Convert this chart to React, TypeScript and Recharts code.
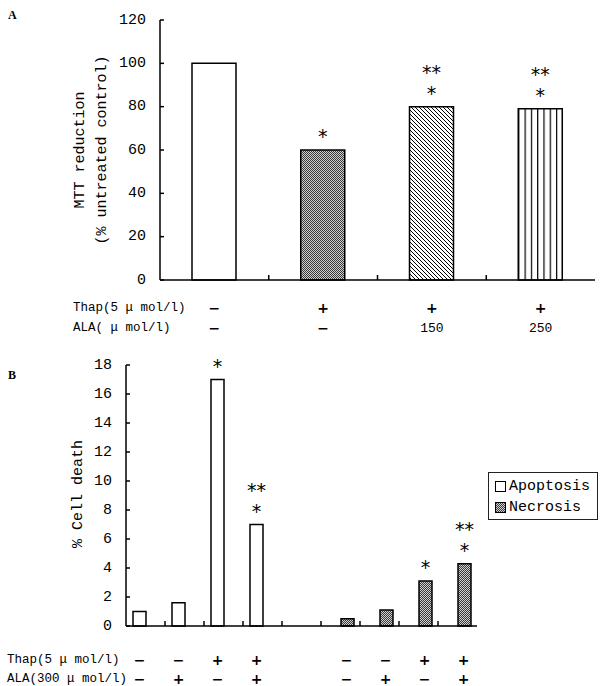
import React from 'react'
import { BarChart, Bar, XAxis, YAxis, Cell, LabelList, Legend } from 'recharts'

const MONO = '"Liberation Mono", monospace'
const SANS = '"DejaVu Sans", sans-serif'

// panel A: MTT reduction
const groupsA = ['control', 'thap', 'thap+ala150', 'thap+ala250']
const mttReduction = [100, 60, 80, 79]
const thapRowA = ['−', '+', '+', '+']
const alaRowA = ['−', '−', '150', '250']
const starsA = ['', '*', '**|*', '**|*']
const ticksA = [0, 20, 40, 60, 80, 100, 120]

// panel B: cell death
const groupsB = ['a1', 'a2', 'a3', 'a4', 'gap', 'n1', 'n2', 'n3', 'n4']
const apoptosis = [1.0, 1.6, 17, 7.0, null, null, null, null, null]
const necrosis = [null, null, null, null, null, 0.5, 1.1, 3.1, 4.3]
const thapRowB = ['−', '−', '+', '+', '', '−', '−', '+', '+']
const alaRowB = ['−', '+', '−', '+', '', '−', '+', '−', '+']
const starsApo = ['', '', '*', '**|*', '', '', '', '', '']
const starsNec = ['', '', '', '', '', '', '', '*', '**|*']
const ticksB = [0, 2, 4, 6, 8, 10, 12, 14, 16, 18]
const seriesB = ['Apoptosis', 'Necrosis']

const dataA = groupsA.map((g, i) => ({ name: g, value: mttReduction[i], stars: starsA[i] }))
const dataB = groupsB.map((g, i) => ({
  name: g, apoptosis: apoptosis[i], necrosis: necrosis[i], apoStars: starsApo[i], necStars: starsNec[i],
}))

const YTICK_GAP = 14

function InTickY(props: any) {
  const { x, y, payload } = props
  return (
    <g>
      <line x1={x + YTICK_GAP} x2={x + YTICK_GAP + 4} y1={y} y2={y} stroke="#000" strokeWidth={1.5} />
      <text x={x} y={y} textAnchor="end" dominantBaseline="central" fontSize={15} fontFamily={MONO} fill="#000">
        {payload.value}
      </text>
    </g>
  )
}

function makeGroupTick(groups: string[], rows: string[][], rowY: number[], half: number, shift: (i: number) => number) {
  return (props: any) => {
    const { x, y, payload } = props
    const i = groups.indexOf(payload.value)
    const dx = shift(i)
    return (
      <g>
        {i < groups.length - 1 && (
          <line x1={x + half} x2={x + half} y1={y} y2={y - 5} stroke="#000" strokeWidth={1.5} />
        )}
        {rows.map((row, r) => {
          const s = row[i]
          const isSign = s === '+' || s === '−'
          return (
            <text
              key={r}
              x={x + dx}
              y={y + rowY[r]}
              textAnchor="middle"
              dominantBaseline="central"
              fontSize={isSign ? 14 : 13}
              fontWeight={isSign ? 'bold' : 'normal'}
              fontFamily={isSign ? SANS : MONO}
              fill="#000"
            >
              {s}
            </text>
          )
        })}
      </g>
    )
  }
}

// stacked significance marks above a bar, "|" separates lines
function StarMarks(props: any) {
  const { x, y, width, value } = props
  if (!value || y == null) return null
  const lines = String(value).split('|')
  return (
    <g>
      {lines.map((s, k) => {
        const cy = y - 15 - 21 * (lines.length - 1 - k)
        return (
          <text key={k} x={x + width / 2} y={cy + 8} textAnchor="middle" fontSize={19} fontFamily={SANS} fill="#000">
            {s}
          </text>
        )
      })}
    </g>
  )
}

function Patterns({ id }: { id: string }) {
  return (
    <defs>
      <pattern id={`dots${id}`} width={2} height={2} patternUnits="userSpaceOnUse">
        <rect width={2} height={2} fill="#d0d0d0" />
        <rect width={1} height={1} fill="#3a3a3a" />
        <rect x={1} y={1} width={1} height={1} fill="#3a3a3a" />
      </pattern>
      <pattern id={`diag${id}`} width={4} height={4} patternUnits="userSpaceOnUse">
        <rect width={4} height={4} fill="#fff" />
        <path d="M-1,-1 L5,5 M-1,3 L1,5 M3,-1 L5,1" stroke="#000" strokeWidth={1} />
      </pattern>
      <pattern id={`vert${id}`} width={1 / 7} height={1} patternUnits="objectBoundingBox">
        <rect width={20} height={400} fill="#fff" />
        <line x1={0.6} x2={0.6} y1={0} y2={400} stroke="#000" strokeWidth={1.2} />
      </pattern>
    </defs>
  )
}

const fillsA = ['#fff', 'url(#dotsA)', 'url(#diagA)', 'url(#vertA)']

function LegendBox() {
  return (
    <div style={{ border: '1px solid #222', width: 110, height: 48, boxSizing: 'border-box', background: '#fff', fontFamily: MONO, fontSize: 15, color: '#000', paddingLeft: 6, paddingTop: 3 }}>
      {seriesB.map((name, i) => (
        <div key={name} style={{ display: 'flex', alignItems: 'center', height: 21 }}>
          <svg width={11} height={11} style={{ marginRight: 3 }}>
            <defs>
              <pattern id={`legdots${i}`} width={2} height={2} patternUnits="userSpaceOnUse">
                <rect width={2} height={2} fill="#d0d0d0" />
                <rect width={1} height={1} fill="#3a3a3a" />
                <rect x={1} y={1} width={1} height={1} fill="#3a3a3a" />
              </pattern>
            </defs>
            <rect x={0.5} y={0.5} width={10} height={10} fill={i === 0 ? '#fff' : `url(#legdots${i})`} stroke="#000" />
          </svg>
          <span>{name}</span>
        </div>
      ))}
    </div>
  )
}

const abs = (left: number, top: number, extra: React.CSSProperties = {}): React.CSSProperties => ({
  position: 'absolute', left, top, ...extra,
})

const rotLabel = (cx: number, cy: number): React.CSSProperties => ({
  position: 'absolute', left: cx, top: cy, transform: 'translate(-50%, -50%) rotate(-90deg)',
  whiteSpace: 'nowrap', fontFamily: MONO, fontSize: 15, color: '#000',
})

const rowHead: React.CSSProperties = { fontFamily: MONO, fontSize: 12.5, color: '#000', whiteSpace: 'nowrap', lineHeight: '14px' }

export default function App() {
  const halfA = (595 - 160) / groupsA.length / 2
  const halfB = (477 - 126) / groupsB.length / 2
  return (
    <div style={{ position: 'absolute', left: 0, top: 0, width: 600, height: 686, background: '#fff', overflow: 'hidden' }}>
      <div style={abs(8, 8, { fontFamily: 'serif', fontSize: 12, fontWeight: 'bold' })}>A</div>
      <div style={abs(0, 0)}>
        <BarChart width={600} height={345} data={dataA} margin={{ top: 20, right: 5, bottom: 15, left: 0 }} barSize={44}>
          <Patterns id="A" />
          <XAxis dataKey="name" height={50} tickSize={0} tickMargin={0} tickLine={false}
            axisLine={{ stroke: '#000', strokeWidth: 1.5 }}
            tick={makeGroupTick(groupsA, [thapRowA, alaRowA], [28, 48], halfA, () => 0)} />
          <XAxis xAxisId="top" dataKey="name" orientation="top" height={0} tick={false} tickLine={false} axisLine={{ stroke: '#999' }} />
          <YAxis width={160} domain={[0, 120]} ticks={ticksA} tickSize={0} tickMargin={YTICK_GAP} tickLine={false}
            axisLine={{ stroke: '#000', strokeWidth: 1.5 }} tick={<InTickY />} />
          <YAxis yAxisId="right" orientation="right" width={0} domain={[0, 120]} tick={false} tickLine={false} axisLine={{ stroke: '#999' }} />
          <Bar dataKey="value" stroke="#000" strokeWidth={1.5} isAnimationActive={false}>
            {dataA.map((d, i) => <Cell key={d.name} fill={fillsA[i]} />)}
            <LabelList dataKey="stars" content={<StarMarks />} />
          </Bar>
        </BarChart>
      </div>
      <div style={rotLabel(80, 150)}>MTT reduction</div>
      <div style={rotLabel(102, 150)}>(% untreated control)</div>
      <div style={abs(73, 301, rowHead)}>Thap(5 μ mol/l)</div>
      <div style={abs(73, 321, rowHead)}>ALA( μ mol/l)</div>

      <div style={abs(8, 368, { fontFamily: 'serif', fontSize: 12, fontWeight: 'bold' })}>B</div>
      <div style={abs(0, 345)}>
        <BarChart width={600} height={341} data={dataB} margin={{ top: 20, right: 123, bottom: 10, left: 0 }} barSize={13} barGap={0}>
          <Patterns id="B" />
          <XAxis dataKey="name" height={50} tickSize={0} tickMargin={0} tickLine={false}
            axisLine={{ stroke: '#000', strokeWidth: 1.5 }}
            tick={makeGroupTick(groupsB, [thapRowB, alaRowB], [34, 53], halfB, (i) => (apoptosis[i] != null ? -6 : necrosis[i] != null ? 6 : 0))} />
          <XAxis xAxisId="top" dataKey="name" orientation="top" height={0} tick={false} tickLine={false} axisLine={{ stroke: '#999' }} />
          <YAxis width={126} domain={[0, 18]} ticks={ticksB} tickSize={0} tickMargin={YTICK_GAP} tickLine={false}
            axisLine={{ stroke: '#000', strokeWidth: 1.5 }} tick={<InTickY />} />
          <YAxis yAxisId="right" orientation="right" width={0} domain={[0, 18]} tick={false} tickLine={false} axisLine={{ stroke: '#999' }} />
          <Legend layout="vertical" align="center" verticalAlign="middle" content={<LegendBox />}
            wrapperStyle={{ left: 488, top: 127, width: 110, height: 48 }} />
          <Bar dataKey="apoptosis" name="Apoptosis" fill="#fff" stroke="#000" strokeWidth={1.5} isAnimationActive={false}>
            <LabelList dataKey="apoStars" content={<StarMarks />} />
          </Bar>
          <Bar dataKey="necrosis" name="Necrosis" fill="url(#dotsB)" stroke="#000" strokeWidth={1.5} isAnimationActive={false}>
            <LabelList dataKey="necStars" content={<StarMarks />} />
          </Bar>
        </BarChart>
      </div>
      <div style={rotLabel(78, 494)}>% Cell death</div>
      <div style={abs(7, 653, rowHead)}>Thap(5 μ mol/l)</div>
      <div style={abs(7, 672, rowHead)}>ALA(300 μ mol/l)</div>
    </div>
  )
}
